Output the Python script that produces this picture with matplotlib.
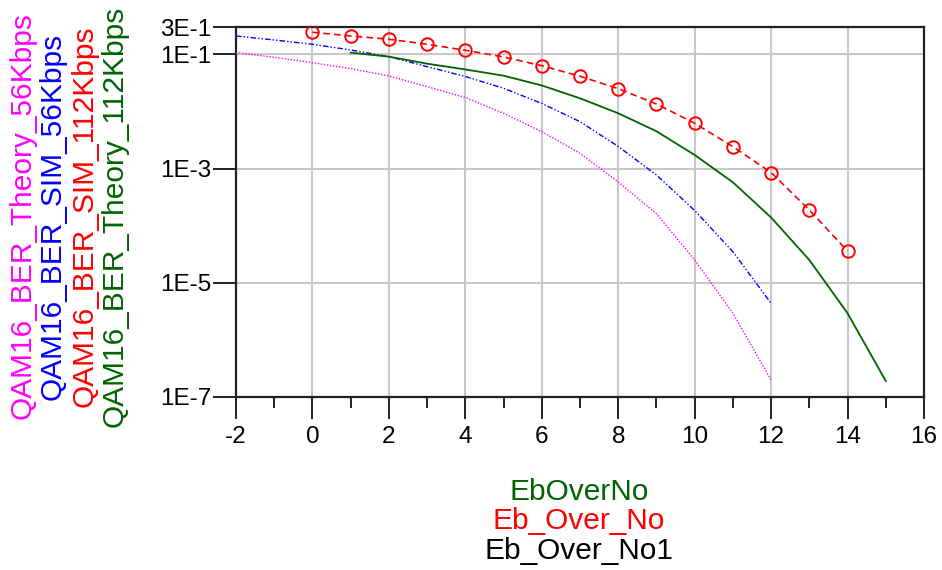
import numpy as np
import matplotlib
matplotlib.use("Agg")
import matplotlib.pyplot as plt
from matplotlib.ticker import FixedLocator, FixedFormatter, MultipleLocator

plt.rcParams['font.family'] = ['Liberation Sans', 'DejaVu Sans']
plt.rcParams['axes.unicode_minus'] = False

# Eb/No axis values (dB) for each trace
eb_theory_56 = list(range(-2, 13))
eb_sim_56 = list(range(-2, 13))
eb_sim_112 = list(range(0, 15))
eb_theory_112 = list(range(1, 16))

# log10(BER) for each trace
log_ber_theory_56 = [-0.972, -1.053, -1.147, -1.252, -1.380, -1.567, -1.757, -2.033,
                     -2.355, -2.733, -3.236, -3.792, -4.601, -5.534, -6.702]
log_ber_sim_56 = [-0.680, -0.750, -0.825, -0.925, -1.042, -1.217, -1.389, -1.595,
                  -1.861, -2.180, -2.614, -3.113, -3.735, -4.456, -5.360]
log_ber_sim_112 = [-0.615, -0.680, -0.737, -0.825, -0.930, -1.047, -1.200, -1.385,
                   -1.602, -1.870, -2.208, -2.618, -3.070, -3.727, -4.445]
log_ber_theory_112 = [-0.972, -1.042, -1.165, -1.266, -1.375, -1.546, -1.771, -2.033,
                      -2.348, -2.763, -3.241, -3.858, -4.602, -5.534, -6.720]

y_tick_values = [3e-1, 1e-1, 1e-3, 1e-5, 1e-7]
y_tick_labels = ["3E-1", "1E-1", "1E-3", "1E-5", "1E-7"]
x_tick_values = list(range(-2, 17, 2))

series_names = ["QAM16_BER_Theory_56Kbps", "QAM16_BER_SIM_56Kbps",
                "QAM16_BER_SIM_112Kbps", "QAM16_BER_Theory_112Kbps"]
x_names = ["EbOverNo", "Eb_Over_No", "Eb_Over_No1"]

MAGENTA = "#ff00ff"
BLUE = "#0000ff"
RED = "#ff0000"
GREEN = "#006400"

W, H = 942, 570
fig = plt.figure(figsize=(W / 100, H / 100), dpi=100)
ax = fig.add_axes([236 / W, 1 - 397 / H, (924 - 236) / W, (397 - 27) / H])

def ber(vals):
    return 10 ** np.array(vals)

ax.plot(eb_theory_56, ber(log_ber_theory_56), color=MAGENTA, lw=1.0,
        linestyle=(0, (1, 1.2)), zorder=3)
ax.plot(eb_sim_56, ber(log_ber_sim_56), color=BLUE, lw=1.0,
        linestyle=(0, (4, 1.5, 1, 1.5, 1, 1.5)), zorder=3)
ax.plot(eb_theory_112, ber(log_ber_theory_112), color=GREEN, lw=1.3, zorder=3)
ax.plot(eb_sim_112, ber(log_ber_sim_112), color=RED, lw=1.2,
        linestyle=(0, (4, 2.5)), marker="o", markersize=9, markerfacecolor="none",
        markeredgecolor=RED, markeredgewidth=1.4, zorder=4)

ax.set_yscale("log")
ax.set_ylim(1e-7, 3e-1)
ax.set_xlim(-2, 16)

ax.yaxis.set_major_locator(FixedLocator(y_tick_values))
ax.yaxis.set_major_formatter(FixedFormatter(y_tick_labels))
ax.yaxis.set_minor_locator(FixedLocator([]))
ax.xaxis.set_major_locator(FixedLocator(x_tick_values))
ax.xaxis.set_minor_locator(MultipleLocator(1))

ax.grid(True, which="major", color="#c8c8c8", lw=1.5, zorder=0)
ax.set_axisbelow(True)

for s in ax.spines.values():
    s.set_color("#222222")
    s.set_linewidth(1.6)

ax.tick_params(axis="y", which="major", direction="out", length=16.5, width=1.4,
               pad=1, labelsize=17.5, color="#222222")
ax.tick_params(axis="x", which="major", direction="out", length=16, width=1.4,
               pad=5, labelsize=17.5, color="#222222")
ax.tick_params(axis="x", which="minor", direction="out", length=8, width=1.4,
               color="#222222")

# Stacked vertical series labels on the left
label_colors = [MAGENTA, BLUE, RED, GREEN]
label_x_px = [23, 53, 85, 115]
for name, col, xp in zip(series_names, label_colors, label_x_px):
    fig.text(xp / W, 1 - 216 / H, name, color=col, rotation=90,
             ha="center", va="center", fontsize=21.5)

# Stacked x-axis labels below the axes
xlabel_colors = [GREEN, RED, "black"]
xlabel_y_px = [492, 521, 551]
for name, col, yp in zip(x_names, xlabel_colors, xlabel_y_px):
    fig.text(579 / W, 1 - yp / H, name, color=col, ha="center", va="center",
             fontsize=21.5)

fig.savefig("out.png", dpi=100)
